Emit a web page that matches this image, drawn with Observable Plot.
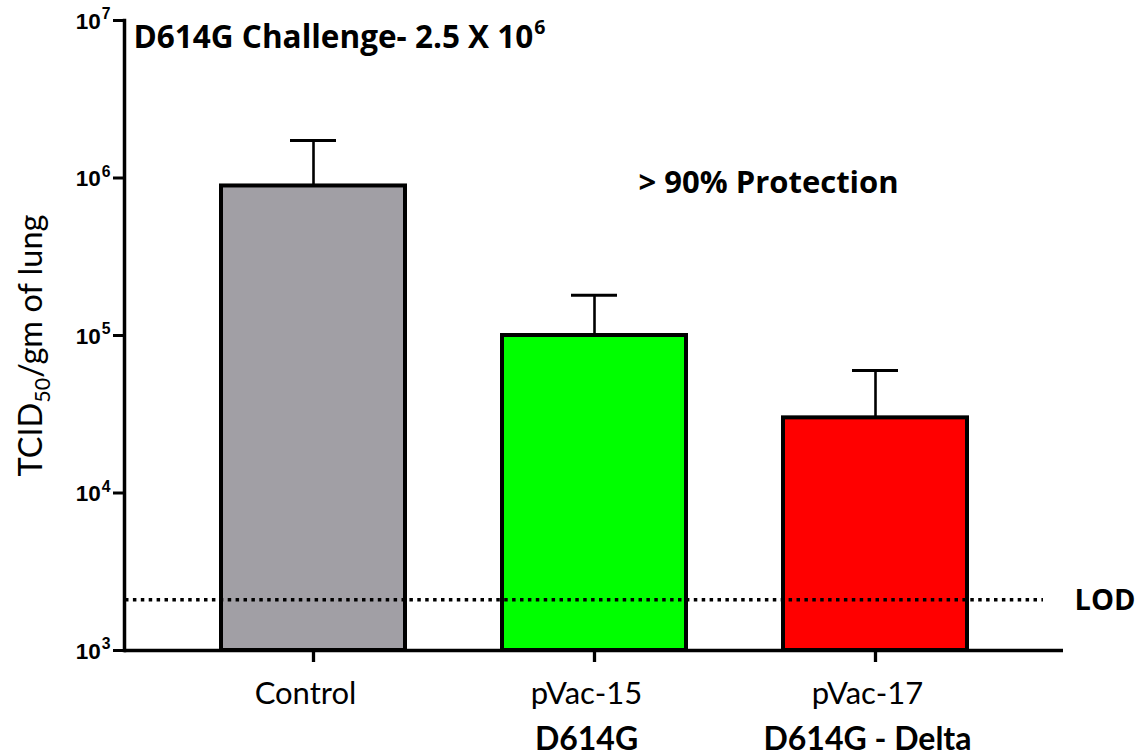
<!DOCTYPE html>
<html>
<head>
<meta charset="utf-8">
<script src="https://cdn.jsdelivr.net/npm/d3@7"></script>
<script src="https://cdn.jsdelivr.net/npm/@observablehq/plot@0.6"></script>
<style>
  html, body { margin: 0; padding: 0; background: #fff; overflow: hidden; }
</style>
</head>
<body>
<div id="chart"></div>
<script>
// Lung viral titre after D614G challenge, by vaccine group
const groups = ["Control", "pVac-15", "pVac-17"];
const subLabels = ["", "D614G", "D614G - Delta"];
const means = [8.9e5, 1.0e5, 3.0e4];
const uppers = [1.73e6, 1.8e5, 6.0e4];
const fills = ["#a19fa5", "#00ff00", "#ff0000"];
const lod = 2100;
const yTicks = [1e3, 1e4, 1e5, 1e6, 1e7];
const titleText = "D614G Challenge- 2.5 X 10^6";
const noteText = "> 90% Protection";
const yLabel = "TCID50/gm of lung";

const rows = groups.map((g, i) => ({group: g, sub: subLabels[i], mean: means[i], upper: uppers[i]}));

const headFont = "'Open Sans', 'Noto Sans', sans-serif";
const bodyFont = "Lato, 'Noto Sans', sans-serif";
const tickFont = "'Liberation Sans', Arial, sans-serif";
const tickSizePx = 22.5;
const titleSizePx = 31.5;
const yLabelSizePx = 32.5;

const svg = Plot.plot({
  width: 1138,
  height: 755,
  marginLeft: 124,
  marginRight: 75,
  marginTop: 20,
  marginBottom: 105,
  style: {background: "#fff", overflow: "visible"},
  x: {type: "band", domain: groups, paddingInner: 0.346, paddingOuter: 0.341, axis: null},
  y: {type: "log", domain: [1e3, 1e7], axis: null},
  color: {domain: groups, range: fills},
  marks: [
    // error bars (upper only)
    Plot.ruleX(rows, {x: "group", y1: "mean", y2: "upper", stroke: "#000", strokeWidth: 2.6}),
    Plot.tickY(rows, {x: "group", y: "upper", stroke: "#000", strokeWidth: 3, insetLeft: 69, insetRight: 69}),
    // bars
    Plot.barY(rows, {x: "group", y1: 1e3, y2: "mean", fill: "group", stroke: "#000", strokeWidth: 4}),
    // limit of detection
    Plot.ruleY([lod], {stroke: "#000", strokeWidth: 3.3, strokeDasharray: "3.5,4.4", insetLeft: 1, insetRight: 20}),
    Plot.text([lod], {y: d => d, text: () => "LOD", frameAnchor: "right", textAnchor: "start", dx: 11, dy: 1,
      fontSize: 29, fontWeight: "bold", fontFamily: headFont, fill: "#000"}),
    // axes
    Plot.ruleY([1e3], {stroke: "#000", strokeWidth: 3.5}),
    Plot.frame({anchor: "left", stroke: "#000", strokeWidth: 3.5}),
    Plot.axisY(yTicks, {tickSize: 11, strokeWidth: 3, stroke: "#000", tickFormat: () => ""}),
    Plot.text(yTicks, {y: d => d, text: d => `10^${Math.round(Math.log10(d))}`, frameAnchor: "left",
      textAnchor: "end", lineAnchor: "middle", dx: -14, dy: 1, fontSize: tickSizePx, fontWeight: "bold",
      fontFamily: tickFont, fill: "#000"}),
    Plot.axisX({tickSize: 12, strokeWidth: 3.3, stroke: "#000", label: null, tickFormat: () => ""}),
    // category labels
    Plot.text(rows, {x: "group", text: "group", frameAnchor: "bottom", lineAnchor: "middle", dx: -8, dy: 44,
      fontSize: 31, fontFamily: bodyFont, fill: "#000"}),
    Plot.text(rows, {x: "group", text: "sub", frameAnchor: "bottom", lineAnchor: "middle", dx: -8, dy: 89,
      fontSize: 32, fontWeight: "bold", fontFamily: bodyFont, fill: "#000"}),
    // y-axis title
    Plot.text([yLabel], {text: d => d, frameAnchor: "left", rotate: -90, textAnchor: "middle", lineAnchor: "middle",
      dx: -93, dy: 10, fontSize: yLabelSizePx, fontFamily: bodyFont, fill: "#000"}),
    // title and note
    Plot.text([titleText], {text: d => d, frameAnchor: "top-left", textAnchor: "start", lineAnchor: "middle",
      dx: 9, dy: 17, fontSize: titleSizePx, fontWeight: "bold", fontFamily: headFont, fill: "#000"}),
    Plot.text([noteText], {x: () => "pVac-15", y: () => 1e6, text: d => d, textAnchor: "start", lineAnchor: "middle",
      dx: 44, dy: 5, fontSize: 31, fontWeight: "bold", fontFamily: headFont, fill: "#000"})
  ]
});

document.getElementById("chart").appendChild(svg);

// Render "10^n" as 10 with a raised exponent, and "TCID50" with a lowered 50
d3.select(svg).selectAll("text").each(function () {
  const t = this.textContent;
  const m = /^(.*10)\^(\d)$/.exec(t);
  const sel = d3.select(this);
  if (m) {
    const isTick = m[1] === "10";
    const fs = isTick ? tickSizePx : titleSizePx;
    sel.text(null);
    sel.append("tspan").text(m[1]);
    sel.append("tspan").attr("dy", -0.42 * fs).attr("dx", 1)
      .style("font-size", `${(isTick ? 0.7 : 0.62) * fs}px`).text(m[2]);
  } else if (t === yLabel) {
    const fs = yLabelSizePx;
    sel.text(null);
    sel.append("tspan").text("TCID");
    sel.append("tspan").attr("dy", 0.25 * fs).style("font-size", `${0.66 * fs}px`).text("50");
    sel.append("tspan").attr("dy", -0.25 * fs).text("/gm of lung");
  }
});
</script>
</body>
</html>
